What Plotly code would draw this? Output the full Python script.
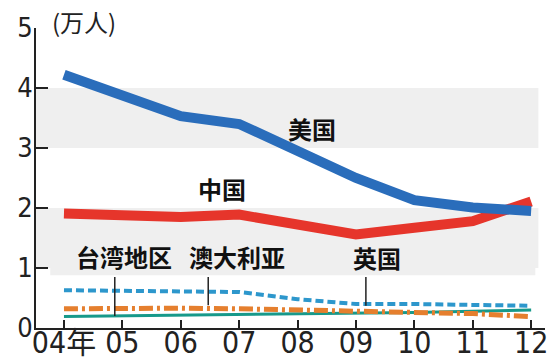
import plotly.graph_objects as go

years = [2004, 2005, 2006, 2007, 2008, 2009, 2010, 2011, 2012]
tick_text = ["04年", "05", "06", "07", "08", "09", "10", "11", "12"]
y_ticks = [0, 1, 2, 3, 4, 5]
us = [4.22, 3.87, 3.53, 3.40, 2.95, 2.50, 2.13, 2.01, 1.95]
china = [1.91, 1.89, 1.85, 1.89, 1.72, 1.56, 1.67, 1.78, 2.11]
uk = [0.63, 0.62, 0.62, 0.60, 0.48, 0.40, 0.40, 0.38, 0.37]
australia = [0.32, 0.33, 0.33, 0.32, 0.30, 0.27, 0.26, 0.24, 0.19]
taiwan = [0.19, 0.20, 0.22, 0.23, 0.23, 0.24, 0.26, 0.28, 0.30]

NUM_FONT = "DejaVu Sans Condensed, Liberation Sans, Noto Sans CJK SC, sans-serif"
CJK_FONT = "Noto Sans CJK SC, sans-serif"

fig = go.Figure()
fig.add_trace(go.Scatter(x=years, y=taiwan, mode="lines",
                         line=dict(color="#17998a", width=3)))
fig.add_trace(go.Scatter(x=years, y=australia, mode="lines",
                         line=dict(color="#e57f2e", width=5, dash="14px,4px,3px,4px")))
fig.add_trace(go.Scatter(x=years, y=uk, mode="lines",
                         line=dict(color="#2d97cc", width=4, dash="8px,4px")))
fig.add_trace(go.Scatter(x=years, y=china, mode="lines",
                         line=dict(color="#e6352b", width=10)))
fig.add_trace(go.Scatter(x=years, y=us, mode="lines",
                         line=dict(color="#2a6dbb", width=10)))

shapes = [
    dict(type="rect", xref="paper", yref="y", x0=0, x1=0.987, y0=3, y1=4,
         fillcolor="#efefef", line=dict(width=0), layer="below"),
    dict(type="rect", xref="paper", yref="y", x0=0, x1=0.987, y0=1, y1=2,
         fillcolor="#efefef", line=dict(width=0), layer="below"),
    dict(type="rect", xref="paper", yref="y", x0=0.028, x1=0.981, y0=0.88, y1=1,
         fillcolor="#efefef", line=dict(width=0), layer="below"),
    dict(type="line", xref="x", yref="y", x0=2004.87, x1=2004.87, y0=0.85, y1=0.2,
         line=dict(color="#222", width=1.5)),
    dict(type="line", xref="x", yref="y", x0=2006.47, x1=2006.47, y0=0.85, y1=0.38,
         line=dict(color="#222", width=1.5)),
    dict(type="line", xref="x", yref="y", x0=2009.17, x1=2009.17, y0=0.85, y1=0.37,
         line=dict(color="#222", width=1.5)),
]

labels = [
    ("美国", 2008.25, 3.33),
    ("中国", 2006.71, 2.32),
    ("台湾地区", 2005.03, 1.2),
    ("澳大利亚", 2006.96, 1.2),
    ("英国", 2009.36, 1.17),
]
annotations = [
    dict(text=f"<b>{t}</b>", x=x, y=y, xref="x", yref="y", showarrow=False,
         font=dict(family=CJK_FONT, size=24, color="#111"))
    for t, x, y in labels
]
annotations.append(dict(text="(万人)", xref="paper", yref="paper", x=0.028, y=1.02,
                        xanchor="left", yanchor="middle", showarrow=False,
                        font=dict(family=CJK_FONT, size=24, color="#222")))

fig.update_layout(
    width=550, height=362,
    margin=dict(l=36, r=5, t=28, b=34),
    paper_bgcolor="white", plot_bgcolor="white",
    showlegend=False,
    shapes=shapes, annotations=annotations,
    xaxis=dict(range=[2003.521, 2012.237], tickvals=years, ticktext=tick_text,
               automargin=False, ticklabelstandoff=-13,
               ticks="inside", ticklen=8, tickwidth=1.5, tickcolor="#222",
               showline=True, linecolor="#222", linewidth=2,
               showgrid=False, zeroline=False,
               tickfont=dict(family=NUM_FONT, size=30, color="#222")),
    yaxis=dict(range=[0, 5], tickvals=y_ticks, automargin=False,
               ticklabelstandoff=-4,
               ticks="inside", ticklen=12, tickwidth=1.5, tickcolor="#222",
               showline=True, linecolor="#222", linewidth=2,
               showgrid=False, zeroline=False,
               tickfont=dict(family=NUM_FONT, size=27, color="#222")),
)

fig.write_html("out.html", config={"displayModeBar": False},
               post_script="document.body.style.margin='0';document.body.style.overflow='hidden';")
